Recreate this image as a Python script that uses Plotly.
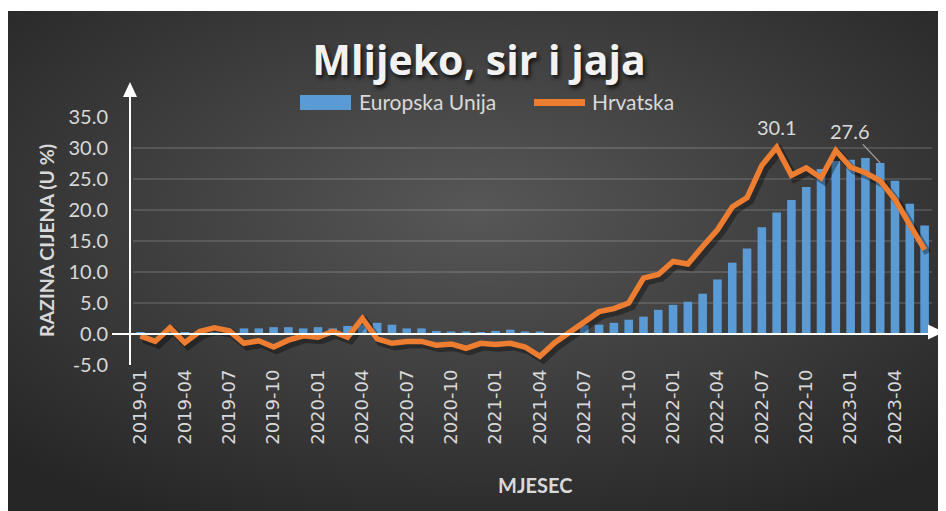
import base64
import plotly.graph_objects as go

# ---------------- data ----------------
months = [f"{y}-{m:02d}" for y in range(2019, 2024) for m in range(1, 13)][:54]

eu = [0.2, 0.1, 0.3, 0.2, 0.3, 0.3, 0.5, 0.9, 0.9, 1.1,
      1.1, 0.9, 1.1, 0.9, 1.3, 1.5, 1.8, 1.5, 0.9, 0.9,
      0.5, 0.4, 0.4, 0.3, 0.5, 0.7, 0.4, 0.4, 0.1, 0.3,
      1.4, 1.5, 1.8, 2.3, 2.8, 3.9, 4.7, 5.2, 6.5, 8.8,
      11.5, 13.8, 17.2, 19.6, 21.6, 23.7, 26.6, 27.9, 28.1, 28.4,
      27.6, 24.7, 21.0, 17.5]

hr = [-0.3, -1.2, 1.0, -1.4, 0.4, 1.0, 0.5, -1.5, -1.1, -2.1,
      -1.0, -0.3, -0.5, 0.4, -0.5, 2.5, -0.8, -1.5, -1.2, -1.2,
      -1.8, -1.6, -2.3, -1.5, -1.7, -1.5, -2.1, -3.6, -1.4, 0.3,
      1.8, 3.6, 4.1, 5.0, 9.0, 9.6, 11.7, 11.3, 14.1, 16.8,
      20.5, 22.0, 27.2, 30.1, 25.6, 26.8, 25.2, 29.6, 26.9, 26.0,
      24.7, 21.7, 17.6, 13.6]

y_ticks = [-5, 0, 5, 10, 15, 20, 25, 30, 35]
x_ticks = months[::3]

title_text = "Mlijeko, sir i jaja"
y_title = "RAZINA CIJENA (U %)"
x_title = "MJESEC"
eu_name = "Europska Unija"
hr_name = "Hrvatska"

# ---------------- layout geometry ----------------
# the page body has an 8px default margin; coordinates below are window pixels
OFF = 8
W, H = 946 - OFF, 511 - OFF
PLOT_L, PLOT_R, PLOT_T, PLOT_B = 133, 932, 117, 365  # window px
L, R, T, B = PLOT_L - OFF, W - (PLOT_R - OFF), PLOT_T - OFF, H - (PLOT_B - OFF)
PW, PH = W - L - R, H - T - B


def px(x):
    return (x - OFF - L) / PW


def py(y):
    return (H - B - (y - OFF)) / PH


TXT = "#d9d9d9"
BLUE = "#5b9bd5"
ORANGE = "#ED7D31"

svg = (
    '<svg xmlns="http://www.w3.org/2000/svg" width="940" height="500" preserveAspectRatio="none">'
    '<defs><radialGradient id="g" cx="50%" cy="40%" r="70%">'
    '<stop offset="0%" stop-color="#575757"/><stop offset="100%" stop-color="#262626"/>'
    '</radialGradient></defs><rect width="940" height="500" fill="url(#g)"/></svg>'
)
bg_src = "data:image/svg+xml;base64," + base64.b64encode(svg.encode()).decode()

fig = go.Figure()
fig.add_trace(go.Bar(x=months, y=eu, name=eu_name, marker=dict(color=BLUE, line=dict(width=0)),
                     showlegend=False))
fig.add_trace(go.Scatter(x=months, y=hr, mode="lines", xaxis="x2", yaxis="y2",
                         line=dict(color="rgba(0,0,0,0.35)", width=7.5), hoverinfo="skip",
                         showlegend=False))
fig.add_trace(go.Scatter(x=months, y=hr, mode="lines", name=hr_name, xaxis="x3", yaxis="y3",
                         line=dict(color=ORANGE, width=5.5), showlegend=False))

yr = [-5, 35]
fig.update_layout(
    width=W, height=H,
    margin=dict(l=L, r=R, t=T, b=B, autoexpand=False),
    paper_bgcolor="white",
    plot_bgcolor="rgba(0,0,0,0)",
    bargap=0.42,
    showlegend=False,
    title=dict(text=title_text, x=(479 - OFF) / W, xanchor="center", y=1 - (61 - OFF) / H,
               yanchor="middle",
               font=dict(family="Open Sans", size=41, weight=700, color="#f2f2f2",
                         shadow="2px 3px 4px rgba(0,0,0,0.75)")),
    xaxis=dict(type="category", range=[-0.5, 53.5], tickmode="array", tickvals=x_ticks,
               ticktext=x_ticks, tickangle=-90, showgrid=False, showline=False, zeroline=False,
               ticks="", tickfont=dict(family="DejaVu Sans", size=18, color=TXT)),
    yaxis=dict(range=yr, tickmode="array", tickvals=y_ticks,
               ticktext=[f"{v:.1f}" for v in y_ticks], showgrid=True,
               gridcolor="rgba(255,255,255,0.13)", gridwidth=1.5, zeroline=False, showline=False,
               ticks="outside", ticklen=20, tickcolor="rgba(0,0,0,0)",
               tickfont=dict(family="Lato", size=20, color=TXT)),
    xaxis2=dict(type="category", overlaying="x", range=[-0.5 - 0.22, 53.5 - 0.22], visible=False),
    yaxis2=dict(overlaying="y", range=[yr[0] + 0.55, yr[1] + 0.55], visible=False),
    xaxis3=dict(type="category", overlaying="x", range=[-0.5, 53.5], visible=False),
    yaxis3=dict(overlaying="y", range=yr, visible=False),
    images=[dict(source=bg_src, xref="paper", yref="paper", x=px(7), y=py(11),
                 sizex=940 / PW, sizey=500 / PH, sizing="stretch", xanchor="left",
                 yanchor="top", layer="below")],
)

shapes = [
    # y axis line with arrow
    dict(type="line", xref="paper", yref="paper", x0=px(130), x1=px(130), y0=py(365), y1=py(96),
         line=dict(color="white", width=2), layer="above"),
    dict(type="path", xref="paper", yref="paper",
         path=f"M {px(130)},{py(82)} L {px(123)},{py(97)} L {px(137)},{py(97)} Z",
         fillcolor="white", line=dict(width=0), layer="above"),
    # x axis (zero) line with arrow
    dict(type="line", xref="paper", yref="y", x0=px(112), x1=px(929), y0=0, y1=0,
         line=dict(color="white", width=2), layer="above"),
    dict(type="path", xref="paper", yref="paper",
         path=f"M {px(944)},{py(332)} L {px(928)},{py(324.5)} L {px(928)},{py(339.5)} Z",
         fillcolor="white", line=dict(width=0), layer="above"),
    # legend symbols
    dict(type="rect", xref="paper", yref="paper", x0=px(300), x1=px(351), y0=py(110), y1=py(95),
         fillcolor=BLUE, line=dict(width=0), layer="above"),
    dict(type="line", xref="paper", yref="paper", x0=px(534), x1=px(585), y0=py(102.5),
         y1=py(102.5), line=dict(color=ORANGE, width=7), layer="above"),
]
fig.update_layout(shapes=shapes)

i_hr = hr.index(max(hr))
i_eu = 50
annotations = [
    dict(xref="paper", yref="paper", x=px(357), y=py(102), xanchor="left", yanchor="middle",
         text=eu_name, showarrow=False, font=dict(family="Lato", size=21, color=TXT)),
    dict(xref="paper", yref="paper", x=px(590), y=py(102), xanchor="left", yanchor="middle",
         text=hr_name, showarrow=False, font=dict(family="Lato", size=21, color=TXT)),
    dict(xref="paper", yref="paper", x=px(46), y=py(241), xanchor="center", yanchor="middle",
         text=y_title, textangle=-90, showarrow=False,
         font=dict(family="Lato", size=19.5, weight=700, color=TXT)),
    dict(xref="paper", yref="paper", x=px(535), y=py(485), xanchor="center", yanchor="middle",
         text=x_title, showarrow=False,
         font=dict(family="Lato", size=20, weight=700, color=TXT)),
    dict(x=months[i_hr], y=hr[i_hr], xref="x", yref="y", text=f"{hr[i_hr]:.1f}",
         showarrow=False, yshift=20, font=dict(family="Lato", size=20, color=TXT)),
    dict(x=months[i_eu], y=eu[i_eu], xref="x", yref="y", text=f"{eu[i_eu]:.1f}",
         showarrow=True, arrowhead=0, arrowwidth=1.2, arrowcolor="#a6a6a6", ax=-30, ay=-32,
         font=dict(family="Lato", size=20, color=TXT)),
]
fig.update_layout(annotations=annotations)

fig.write_html("out.html")
